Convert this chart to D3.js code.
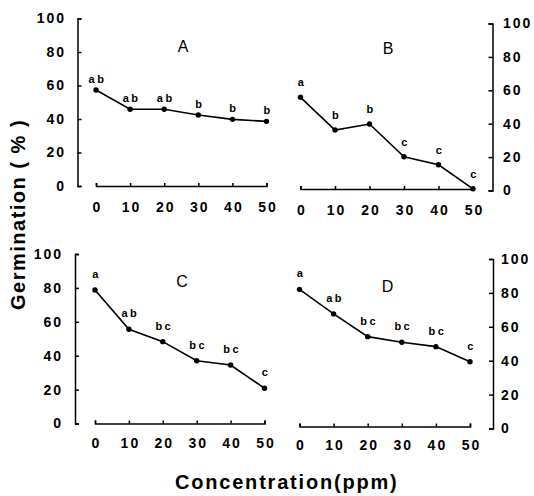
<!DOCTYPE html>
<html>
<head>
<meta charset="utf-8">
<script src="https://cdn.jsdelivr.net/npm/d3@7"></script>
<style>
  html, body { margin: 0; padding: 0; background: #fff; }
  svg { display: block; }
</style>
</head>
<body>
<svg id="chart" width="534" height="496"></svg>
<script>
// ---------- data ----------
const concentrations = [0, 10, 20, 30, 40, 50];
const xTickLabels = ["0", "10", "20", "30", "40", "50"];
const yTicks = [0, 20, 40, 60, 80, 100];
const panelNames = ["A", "B", "C", "D"];
const valuesA = [57.3, 45.8, 45.8, 42.4, 39.8, 38.6];
const valuesB = [55.8, 36.2, 39.8, 20.2, 15.4, 1];
const valuesC = [78.8, 55.6, 48.3, 37.0, 34.5, 20.8];
const valuesD = [82.1, 67.6, 54.2, 50.9, 48.3, 39.4];
const lettersA = ["ab", "ab", "ab", "b", "b", "b"];
const lettersB = ["a", "b", "b", "c", "c", "c"];
const lettersC = ["a", "ab", "bc", "bc", "bc", "c"];
const lettersD = ["a", "ab", "bc", "bc", "bc", "c"];
const yAxisTitle = "Germination ( % )";
const xAxisTitle = "Concentration(ppm)";

// ---------- layout (pixels) ----------
const layout = {
  A: {side: "left",  axisX: 77.5, y0: 186,   y100: 18.5, xAxisY: 186,   x0: 96,    x50: 266.5, labelPad: 11.5, xLabelPad: 16,   titleX: 183,   titleY: 52,    gap: 7},
  B: {side: "right", axisX: 492.5, y0: 190.5, y100: 23.5, xAxisY: 189,   x0: 300.5, x50: 473,   labelPad: 10.5, xLabelPad: 16,   titleX: 388,   titleY: 54,    gap: 11},
  C: {side: "left",  axisX: 75,   y0: 423.5, y100: 254,  xAxisY: 423.5, x0: 95,    x50: 264.5, labelPad: 12,   xLabelPad: 14.5, titleX: 182,   titleY: 287,   gap: 12},
  D: {side: "right", axisX: 493,  y0: 428.5, y100: 259,  xAxisY: 426.5, x0: 299.5, x50: 470,   labelPad: 8,    xLabelPad: 13.5, titleX: 387.5, titleY: 291.5, gap: 12}
};
const seriesByPanel = {A: valuesA, B: valuesB, C: valuesC, D: valuesD};
const lettersByPanel = {A: lettersA, B: lettersB, C: lettersC, D: lettersD};

const FONT = "'Liberation Sans', Arial, Helvetica, sans-serif";
const svg = d3.select("#chart");

panelNames.forEach(name => {
  const L = layout[name];
  const vals = seriesByPanel[name];
  const lets = lettersByPanel[name];
  const x = d3.scaleLinear().domain([0, 50]).range([L.x0, L.x50]);
  const y = d3.scaleLinear().domain([0, 100]).range([L.y0, L.y100]);
  const g = svg.append("g");

  // y axis
  const yAx = (L.side === "left" ? d3.axisLeft(y) : d3.axisRight(y))
    .tickValues(yTicks).tickFormat(d3.format("d"))
    .tickSizeInner(-4).tickSizeOuter(-4).tickPadding(L.labelPad);
  const yg = g.append("g").attr("transform", `translate(${L.axisX},0)`).call(yAx);
  yg.attr("font-family", FONT).attr("font-size", 14).attr("font-weight", "bold");
  yg.selectAll("text").attr("letter-spacing", 2).attr("fill", "#000");
  yg.selectAll("path, line").attr("stroke", "#000").attr("stroke-width", 1.5);

  // x axis
  const xAx = d3.axisBottom(x).tickValues(concentrations)
    .tickFormat((d, i) => xTickLabels[i])
    .tickSizeInner(-3).tickSizeOuter(-3).tickPadding(L.xLabelPad);
  const xg = g.append("g").attr("transform", `translate(0,${L.xAxisY})`).call(xAx);
  xg.attr("font-family", FONT).attr("font-size", 14).attr("font-weight", "bold");
  xg.selectAll("text").attr("letter-spacing", 2).attr("dx", 1).attr("fill", "#000");
  xg.selectAll("path, line").attr("stroke", "#000").attr("stroke-width", 1.5);

  // line
  const line = d3.line().x((d, i) => x(concentrations[i])).y(d => y(d));
  g.append("path").datum(vals).attr("d", line)
    .attr("fill", "none").attr("stroke", "#000").attr("stroke-width", 1.6);

  // points
  g.selectAll("circle").data(vals).join("circle")
    .attr("cx", (d, i) => x(concentrations[i])).attr("cy", d => y(d))
    .attr("r", 2.7).attr("fill", "#000");

  // significance letters
  g.selectAll("text.sig").data(vals).join("text").attr("class", "sig")
    .attr("x", (d, i) => x(concentrations[i]) + 1.5)
    .attr("y", d => y(d) - L.gap)
    .attr("text-anchor", "middle")
    .attr("font-family", FONT).attr("font-size", 11).attr("font-weight", "bold")
    .attr("letter-spacing", 2.5)
    .text((d, i) => lets[i]);

  // panel title
  g.append("text").attr("x", L.titleX).attr("y", L.titleY)
    .attr("text-anchor", "middle")
    .attr("font-family", FONT).attr("font-size", 16)
    .text(name);
});

// axis titles
svg.append("text")
  .attr("transform", "translate(25,310) rotate(-90)")
  .attr("font-family", FONT).attr("font-size", 20).attr("font-weight", "bold")
  .attr("letter-spacing", 1.5)
  .text(yAxisTitle);

svg.append("text")
  .attr("x", 175).attr("y", 489)
  .attr("font-family", FONT).attr("font-size", 20).attr("font-weight", "bold")
  .attr("letter-spacing", 1.8)
  .text(xAxisTitle);
</script>
</body>
</html>
